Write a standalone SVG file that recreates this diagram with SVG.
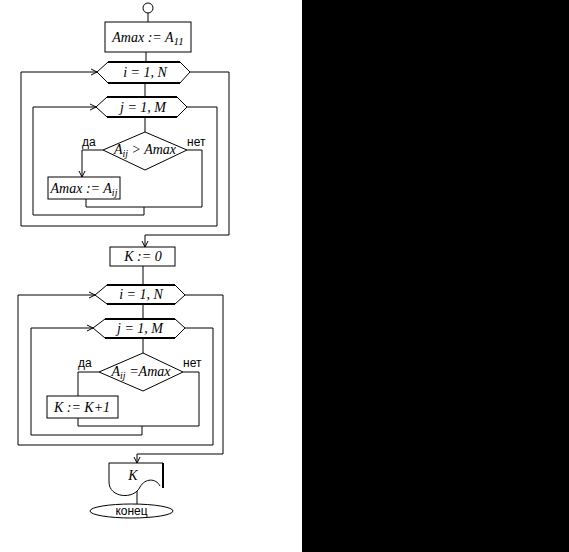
<svg xmlns="http://www.w3.org/2000/svg" width="569" height="552" viewBox="0 0 569 552">
<defs>
<marker id="arr" markerWidth="8" markerHeight="8" refX="7" refY="4" orient="auto" markerUnits="userSpaceOnUse">
<polyline points="1,1 7,4 1,7" fill="none" stroke="#000" stroke-width="1"/>
</marker>
<style>
.ln{fill:none;stroke:#000;stroke-width:1}
.ar{fill:none;stroke:#000;stroke-width:1;marker-end:url(#arr)}
.bx{fill:#fff;stroke:#000;stroke-width:1}
.thk{stroke:#000;stroke-width:2;fill:none}
.m{font-family:"Liberation Serif",serif;font-style:italic;font-size:14px;fill:#000}
.s{font-family:"Liberation Sans",Arial,sans-serif;font-size:12px;fill:#000}
</style>
</defs>
<rect x="0" y="0" width="569" height="552" fill="#fff"/>
<rect x="302" y="0" width="267" height="552" fill="#000"/>
<g id="connectors">
<line class="ln" x1="148" y1="13" x2="148" y2="22"/>
<line class="ln" x1="146" y1="52" x2="146" y2="62"/>
<line class="ln" x1="145" y1="83" x2="145" y2="97"/>
<line class="ln" x1="145" y1="117" x2="145" y2="132"/>
<polyline class="ar" points="103,150 82,150 82,177"/>
<polyline class="ln" points="187,150 202,150 202,207 86,207 86,199"/>
<polyline class="ar" points="144,207 144,215 33,215 33,107 96,107"/>
<polyline class="ar" points="187,107 217,107 217,226 21,226 21,72 97,72"/>
<polyline class="ar" points="190,72 229,72 229,235 145,235 145,247"/>
<line class="ln" x1="143" y1="266" x2="143" y2="285"/>
<line class="ln" x1="143" y1="304" x2="143" y2="319"/>
<line class="ln" x1="143" y1="338" x2="143" y2="353"/>
<polyline class="ln" points="99,372 78,372 78,396"/>
<polyline class="ln" points="183,372 199,372 199,426 78,426 78,418"/>
<polyline class="ar" points="142,426 142,435 31,435 31,328 93,328"/>
<polyline class="ar" points="185,328 213,328 213,445 18,445 18,295 95,295"/>
<polyline class="ar" points="185,295 223,295 223,454 137,454 137,463"/>
<line class="ln" x1="137" y1="487" x2="137" y2="504"/>
</g>
<g id="start"><circle class="bx" cx="148" cy="8" r="5"/></g>
<g id="init1">
<rect class="bx" x="105" y="22" width="86" height="30"/>
<text class="m" x="148" y="42" text-anchor="middle" font-size="16">Amax := A<tspan font-size="11" dy="3">11</tspan></text>
</g>
<g id="loopi1">
<polygon class="bx" points="97,72 108,62 180,62 190,72 180,83 108,83"/>
<line class="thk" x1="108" y1="62" x2="180" y2="62"/><line class="thk" x1="108" y1="83" x2="180" y2="83"/>
<text class="m" x="145" y="77" text-anchor="middle" font-size="13">i = 1, N</text>
</g>
<g id="loopj1">
<polygon class="bx" points="96,107 107,97 177,97 187,107 177,117 107,117"/>
<line class="thk" x1="107" y1="97" x2="177" y2="97"/><line class="thk" x1="107" y1="117" x2="177" y2="117"/>
<text class="m" x="143" y="112" text-anchor="middle" font-size="13">j = 1, M</text>
</g>
<g id="cond1">
<polygon class="bx" points="145,132 187,150 145,170 103,150"/>
<text class="m" x="145" y="154" text-anchor="middle">A<tspan font-size="10" dy="3">ij</tspan><tspan dy="-3"> &gt; Amax</tspan></text>
<text class="s" x="82" y="146">да</text>
<text class="s" x="187" y="146">нет</text>
</g>
<g id="assign1">
<rect class="bx" x="48" y="177" width="72" height="22"/>
<text class="m" x="84" y="193" text-anchor="middle" font-size="15">Amax := A<tspan font-size="10" dy="3">ij</tspan></text>
</g>
<g id="init2">
<rect class="bx" x="110" y="247" width="65" height="19"/>
<text class="m" x="143" y="261" text-anchor="middle">K := 0</text>
</g>
<g id="loopi2">
<polygon class="bx" points="95,295 107,285 175,285 185,295 175,304 107,304"/>
<line class="thk" x1="107" y1="285" x2="175" y2="285"/><line class="thk" x1="107" y1="304" x2="175" y2="304"/>
<text class="m" x="141" y="299" text-anchor="middle" font-size="13">i = 1, N</text>
</g>
<g id="loopj2">
<polygon class="bx" points="93,328 105,319 175,319 185,328 175,338 105,338"/>
<line class="thk" x1="105" y1="319" x2="175" y2="319"/><line class="thk" x1="105" y1="338" x2="175" y2="338"/>
<text class="m" x="140" y="333" text-anchor="middle" font-size="13">j = 1, M</text>
</g>
<g id="cond2">
<polygon class="bx" points="143,353 183,372 143,391 99,372"/>
<text class="m" x="141" y="376" text-anchor="middle">A<tspan font-size="10" dy="3">ij</tspan><tspan dy="-3"> =Amax</tspan></text>
<text class="s" x="78" y="367">да</text>
<text class="s" x="183" y="367">нет</text>
</g>
<g id="inc">
<rect class="bx" x="47" y="396" width="71" height="22"/>
<text class="m" x="82" y="412" text-anchor="middle" font-size="15">K := K+1</text>
</g>
<g id="output">
<path class="bx" d="M109,463 H163 V488 M109,463 V482 C109,498 134,500 140,487 C145,478 156,478 160,486"/>
<line x1="163" y1="463" x2="163" y2="488" stroke="#000" stroke-width="2"/>
<text class="m" x="133" y="480" text-anchor="middle" font-size="15">K</text>
</g>
<g id="end">
<ellipse class="bx" cx="131.5" cy="511" rx="41.5" ry="7"/>
<text class="s" x="131.5" y="515" text-anchor="middle">конец</text>
</g>
</svg>
